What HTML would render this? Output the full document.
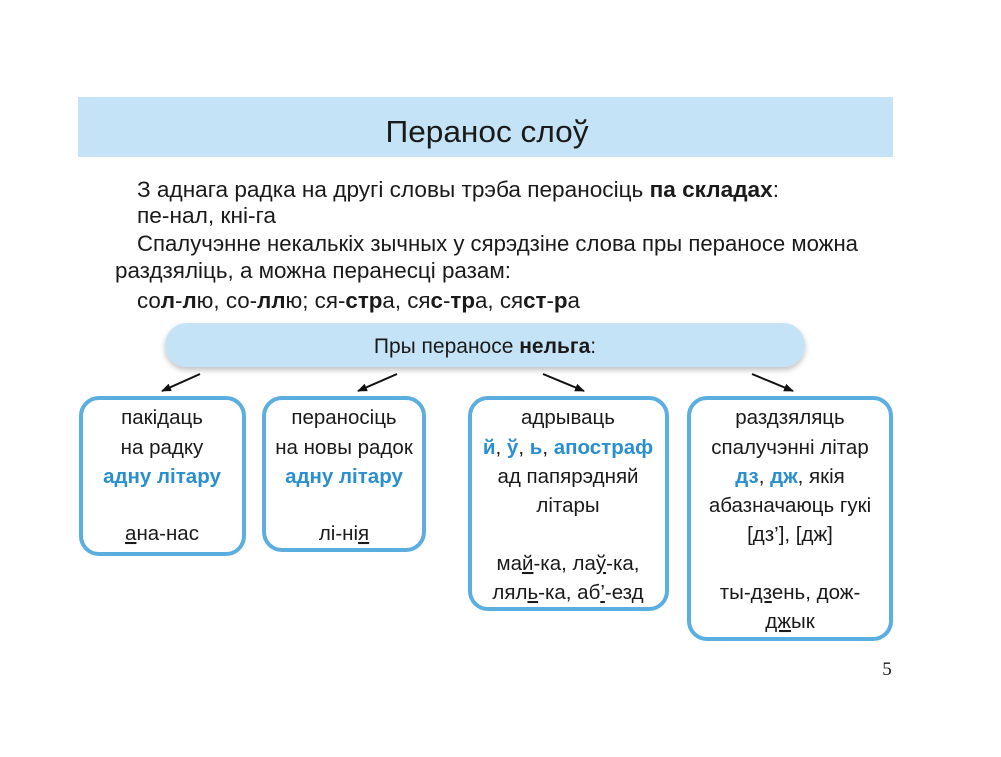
<!DOCTYPE html>
<html><head><meta charset="utf-8"><style>
html,body{margin:0;padding:0;background:#fff;}
svg{display:block;}
text{font-family:"Liberation Sans",sans-serif;fill:#1a1a1a;}
.b{font-weight:bold;}
.bl{font-weight:bold;fill:#2a8fd0;}
</style></head><body>
<svg width="1001" height="757" viewBox="0 0 1001 757" xmlns="http://www.w3.org/2000/svg">
<defs>
<filter id="sh" x="-5%" y="-30%" width="110%" height="170%"><feDropShadow dx="0" dy="3" stdDeviation="3" flood-color="#000" flood-opacity="0.25"/></filter>
<marker id="ah" markerWidth="10" markerHeight="8" refX="9" refY="4" orient="auto" markerUnits="userSpaceOnUse"><path d="M0,0 L10,4 L0,8 z" fill="#111"/></marker>
</defs>
<rect x="78" y="97" width="815" height="60" fill="#c5e3f6"/>
<text x="487" y="142" font-size="31" text-anchor="middle" textLength="203" lengthAdjust="spacingAndGlyphs">Перанос слоў</text>

<g font-size="22">
<text x="137" y="197" textLength="642" lengthAdjust="spacingAndGlyphs">З аднага радка на другі словы трэба пераносіць <tspan class="b">па складах</tspan>:</text>
<text x="137" y="223" textLength="139" lengthAdjust="spacingAndGlyphs">пе-нал, кні-га</text>
<text x="137" y="251" textLength="721" lengthAdjust="spacingAndGlyphs">Спалучэнне некалькіх зычных у сярэдзіне слова пры пераносе можна</text>
<text x="115" y="278" textLength="396" lengthAdjust="spacingAndGlyphs">раздзяліць, а можна перанесці разам:</text>
<text x="137" y="308" textLength="443" lengthAdjust="spacingAndGlyphs">со<tspan class="b">л</tspan>-<tspan class="b">л</tspan>ю, со-<tspan class="b">лл</tspan>ю; ся-<tspan class="b">стр</tspan>а, ся<tspan class="b">с</tspan>-<tspan class="b">тр</tspan>а, ся<tspan class="b">ст</tspan>-<tspan class="b">р</tspan>а</text>
</g>

<rect x="165" y="323" width="640" height="44" rx="22" fill="#c5e3f6" filter="url(#sh)"/>
<text x="485" y="353" font-size="21" text-anchor="middle">Пры пераносе <tspan class="b">нельга</tspan>:</text>

<g stroke="#111" stroke-width="2" marker-end="url(#ah)">
<line x1="200" y1="374" x2="162" y2="391"/>
<line x1="397" y1="374" x2="358" y2="391"/>
<line x1="543" y1="374" x2="584" y2="391"/>
<line x1="752" y1="374" x2="793" y2="391"/>
</g>

<g fill="#fff" stroke="#5aaee0" stroke-width="4">
<rect x="81" y="398" width="163" height="156" rx="18"/>
<rect x="264" y="398" width="160" height="152" rx="18"/>
<rect x="470" y="398" width="197" height="211" rx="18"/>
<rect x="689" y="398" width="202" height="241" rx="18"/>
</g>

<g font-size="20.5" text-anchor="middle">
<text x="162" y="424">пакідаць</text>
<text x="162" y="454">на радку</text>
<text x="162" y="483" class="bl">адну літару</text>
<text x="162" y="540"><tspan text-decoration="underline">а</tspan>на-нас</text>

<text x="344" y="424">пераносіць</text>
<text x="344" y="454">на новы радок</text>
<text x="344" y="483" class="bl">адну літару</text>
<text x="344" y="540">лі-ні<tspan text-decoration="underline">я</tspan></text>

<text x="568" y="424">адрываць</text>
<text x="568" y="454"><tspan class="bl">й</tspan>, <tspan class="bl">ў</tspan>, <tspan class="bl">ь</tspan>, <tspan class="bl">апостраф</tspan></text>
<text x="568" y="483">ад папярэдняй</text>
<text x="568" y="512">літары</text>
<text x="568" y="570">ма<tspan text-decoration="underline">й</tspan>-ка, ла<tspan text-decoration="underline">ў</tspan>-ка,</text>
<text x="568" y="599">лял<tspan text-decoration="underline">ь</tspan>-ка, аб<tspan text-decoration="underline">’</tspan>-езд</text>

<text x="790" y="424">раздзяляць</text>
<text x="790" y="454">спалучэнні літар</text>
<text x="790" y="483"><tspan class="bl">дз</tspan>, <tspan class="bl">дж</tspan>, якія</text>
<text x="790" y="512">абазначаюць гукі</text>
<text x="790" y="541">[дз’], [дж]</text>
<text x="790" y="599">ты-<tspan text-decoration="underline">дз</tspan>ень, дож-</text>
<text x="790" y="628"><tspan text-decoration="underline">дж</tspan>ык</text>
</g>

<text x="887" y="675" font-size="19" text-anchor="middle" style="font-family:'Liberation Serif',serif">5</text>
</svg>
</body></html>
